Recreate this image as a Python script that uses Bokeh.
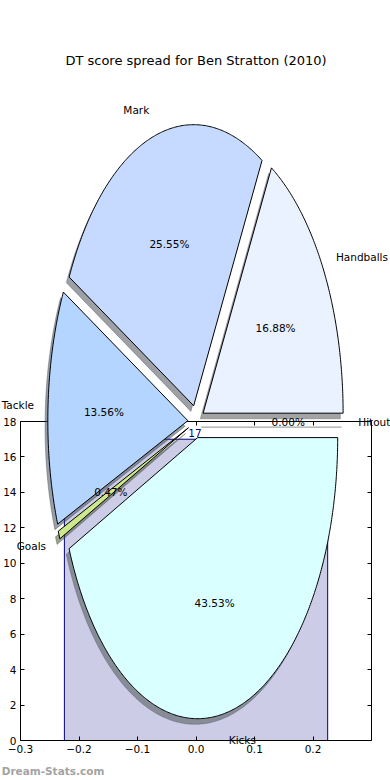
import numpy as np
from bokeh.plotting import figure
from bokeh.models import Range1d, LinearAxis, FixedTicker
from bokeh.core.properties import value
from bokeh.embed import file_html
from bokeh.resources import INLINE

# ---------------- data ----------------
title_text = "DT score spread for Ben Stratton (2010)"
watermark_text = "Dream-Stats.com"
slice_labels = ["Handballs", "Mark", "Tackle", "Goals", "Kicks", "Hitout"]
slice_pcts = [16.88, 25.55, 13.56, 0.47, 43.53, 0.00]
slice_colors = ["#eaf1ff", "#c6d9ff", "#b3d5ff", "#cce888", "#d9ffff", "#ffffff"]
bar_x = [0.0]
bar_values = [17]
x_ticks = [-0.3, -0.2, -0.1, 0.0, 0.1, 0.2]
x_tick_labels = ["\u22120.3", "\u22120.2", "\u22120.1", "0.0", "0.1", "0.2"]
y_ticks = [0, 2, 4, 6, 8, 10, 12, 14, 16, 18]

FONT = value("DejaVu Sans")
LABEL_SIZE = "10.5px"

# pie geometry expressed in the bar axes' data units (stretched ellipse)
CX, CY = 0.0, 18.0
RX, RY = 0.2393, 15.86
EXPLODE = 0.0585
SHADOW = 0.02

p = figure(frame_width=351, frame_height=319,
           min_border_left=19, min_border_right=20,
           min_border_top=421, min_border_bottom=40,
           x_range=Range1d(-0.3, 0.2999), y_range=Range1d(0, 18),
           output_backend="svg", toolbar_location=None,
           background_fill_color="white", border_fill_color="white")
p.outline_line_color = None
p.xgrid.grid_line_color = None
p.ygrid.grid_line_color = None


def style_axis(ax, show_labels):
    ax.axis_line_color = "black"
    ax.axis_line_width = 1
    ax.major_tick_in = 4
    ax.major_tick_out = 0
    ax.major_tick_line_color = "black"
    ax.major_tick_line_width = 1
    ax.minor_tick_line_color = None
    ax.major_label_text_font = "DejaVu Sans"
    ax.major_label_text_font_size = LABEL_SIZE
    ax.major_label_text_color = "black" if show_labels else None
    ax.major_label_standoff = 4


bottom_ax = p.xaxis[0]
left_ax = p.yaxis[0]
bottom_ax.ticker = FixedTicker(ticks=x_ticks)
bottom_ax.major_label_overrides = dict(zip(x_ticks, x_tick_labels))
left_ax.ticker = FixedTicker(ticks=y_ticks)
style_axis(bottom_ax, True)
style_axis(left_ax, True)

top_ax = LinearAxis(ticker=FixedTicker(ticks=x_ticks))
right_ax = LinearAxis(ticker=FixedTicker(ticks=y_ticks))
style_axis(top_ax, False)
style_axis(right_ax, False)
p.add_layout(top_ax, "above")
p.add_layout(right_ax, "right")

# ---------------- bar ----------------
p.vbar(x=bar_x, top=bar_values, bottom=0, width=0.45,
       fill_color="navy", fill_alpha=0.2, line_color="navy", line_width=1)
p.text(x=bar_x, y=[v + 0.12 for v in bar_values], text=[str(v) for v in bar_values],
       text_font=FONT, text_font_size=LABEL_SIZE, text_color="navy",
       text_align="center", text_baseline="bottom", x_offset=-1)

# ---------------- pie ----------------
# a zero-area anchor polygon inside the frame (hidden under the Kicks slice)
# keeps Bokeh from culling slices that lie wholly above the bar axes
ANCHOR_X = [CX] * 3
ANCHOR_Y = [CY * 0.5] * 3

total = sum(slice_pcts)
wx, wy, sx, sy = [], [], [], []
pct_x, pct_y, pct_t = [], [], []
lab_x, lab_y, lab_t, lab_align = [], [], [], []
start = 0.0
for lab, pct in zip(slice_labels, slice_pcts):
    t1 = start
    t2 = start + pct / total * 360.0
    start = t2
    mid = np.radians((t1 + t2) / 2.0)
    ox, oy = EXPLODE * np.cos(mid), EXPLODE * np.sin(mid)
    n = max(2, int(abs(t2 - t1) * 2) + 2)
    th = np.linspace(np.radians(t1), np.radians(t2), n)
    u = np.concatenate([[ox], ox + np.cos(th)])
    v = np.concatenate([[oy], oy + np.sin(th)])
    xs = CX + u * RX
    ys = CY + v * RY
    wx.append([[list(xs)], [ANCHOR_X]])
    wy.append([[list(ys)], [ANCHOR_Y]])
    sx.append([[list(xs - SHADOW * RX)], [ANCHOR_X]])
    sy.append([[list(ys - SHADOW * RY)], [ANCHOR_Y]])
    pct_x.append(CX + (ox + 0.6 * np.cos(mid)) * RX)
    pct_y.append(CY + (oy + 0.6 * np.sin(mid)) * RY)
    pct_t.append(f"{pct:.2f}%")
    lab_x.append(CX + (ox + 1.1 * np.cos(mid)) * RX)
    lab_y.append(CY + (oy + 1.1 * np.sin(mid)) * RY)
    lab_t.append(lab)
    lab_align.append("left" if np.cos(mid) > 0 else "right")

shadow_colors = []
for c in slice_colors:
    r, g, b = int(c[1:3], 16), int(c[3:5], 16), int(c[5:7], 16)
    shadow_colors.append("#%02x%02x%02x" % (int(r * 0.3), int(g * 0.3), int(b * 0.3)))

p.multi_polygons(xs=sx, ys=sy, fill_color=shadow_colors, fill_alpha=0.5,
                 line_color=shadow_colors, line_alpha=0.35, line_width=1, level="overlay")
p.multi_polygons(xs=wx, ys=wy, fill_color=slice_colors, line_color="black",
                 line_width=1, level="overlay")

p.text(x=pct_x, y=pct_y, text=pct_t, text_font=FONT, text_font_size=LABEL_SIZE,
       text_color="black", text_align="center", text_baseline="middle", level="overlay")
p.text(x=lab_x, y=lab_y, text=lab_t, text_font=FONT, text_font_size=LABEL_SIZE,
       text_color="black", text_align=lab_align, text_baseline="middle", level="overlay")

# ---------------- title & watermark ----------------
p.text(x=[0.0], y=[38.37], text=[title_text], text_font=FONT, text_font_size="13px",
       text_color="black", text_align="center", text_baseline="middle", level="overlay")
p.text(x=[-0.3322], y=[-1.72], text=[watermark_text], text_font=FONT,
       text_font_size="10.5px", text_font_style="bold", text_color="#a3a3a3",
       text_align="left", text_baseline="middle", level="overlay")

open("out.html", "w").write(file_html(p, INLINE))
